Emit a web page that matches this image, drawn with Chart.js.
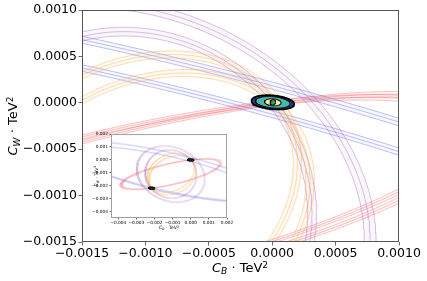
<!DOCTYPE html>
<html>
<head>
<meta charset="utf-8">
<script src="https://cdn.jsdelivr.net/npm/chart.js@4.4.1/dist/chart.umd.min.js"></script>
<style>
  html, body { margin: 0; padding: 0; background: #fff; }
  #wrap { position: relative; width: 427px; height: 281px; font-family: "DejaVu Sans", sans-serif; }
  #main { position: absolute; left: 0; top: 0; }
  #inset { position: absolute; left: 87px; top: 130px; }
  .ttl { position: absolute; white-space: nowrap; color: #000; line-height: 1; }
  .ttl i { font-style: italic; }
  .ttl sub { font-size: 0.7em; vertical-align: -0.25em; font-style: italic; }
  .ttl sup { font-size: 0.7em; vertical-align: 0.45em; }
  #xt { font-size: 13px; left: 240px; top: 261px; transform: translateX(-50%); }
  #yt { font-size: 13px; left: 14px; top: 126px; transform: translate(-50%, -50%) rotate(-90deg); }
  #ixt { font-size: 4.6px; left: 169px; top: 226px; transform: translateX(-50%); }
  #iyt { font-size: 4.6px; left: 97px; top: 176px; transform: translate(-50%, -50%) rotate(-90deg); }
</style>
</head>
<body>
<div id="wrap">
  <canvas id="main" width="427" height="281"></canvas>
  <canvas id="inset" width="150" height="97"></canvas>
  <div class="ttl" id="xt"><i>C</i><sub>B</sub> · TeV<sup>2</sup></div>
  <div class="ttl" id="yt"><i>C</i><sub>W</sub> · TeV<sup>2</sup></div>
  <div class="ttl" id="ixt"><i>C</i><sub>B</sub> · TeV<sup>2</sup></div>
  <div class="ttl" id="iyt"><i>C</i><sub>W</sub> · TeV<sup>2</sup></div>
</div>
<script>
// constraint bands (ellipses), values in units of 1e-3 TeV^-2
const bandColor = ["red", "red", "blue", "blue", "purple", "purple", "orange", "orange"];
const bandCx    = [-1.10, -1.10, -1.30, -1.30, -1.10, -1.10, -1.10, -1.00];
const bandCy    = [-1.10, -1.10, -0.90, -1.10, -1.10, -1.10, -1.00, -1.20];
const bandA     = [2.90, 2.86, 6.00, 5.50, 1.87, 2.25, 1.60, 1.60];
const bandB     = [0.77, 0.82, 1.45, 1.35, 1.41, 1.78, 1.20, 1.20];
const bandAngle = [19.0, 17.4, -18.0, -18.0, 95.0, 115.0, 62.0, 62.0];
const bandLevels = [0.975, 1.0, 1.025];

// combined fit contours around the SM point
const fitNames = ["3 sigma", "2 sigma", "1 sigma", "core"];
const fitA = [0.170, 0.138, 0.066, 0.022];
const fitB = [0.075, 0.060, 0.037, 0.030];
const fitCx = 0.005;
const fitCy = 0.005;
const fitAngle = -8;

// the two common solutions seen in the inset
const solX = [0.0, -2.16];
const solY = [0.0, -2.19];

const mainTicks = [-0.0015, -0.0010, -0.0005, 0.0000, 0.0005, 0.0010];
const insetTicks = [-0.004, -0.003, -0.002, -0.001, 0.000, 0.001, 0.002];

const lineColors = {
    red: "rgba(245, 95, 95, 0.38)",
    blue: "rgba(90, 90, 235, 0.38)",
    purple: "rgba(150, 70, 170, 0.34)",
    orange: "rgba(250, 170, 60, 0.40)",
};
const fillColors = {
    red: "rgba(245, 95, 95, 0.05)",
    blue: "rgba(90, 90, 235, 0.05)",
    purple: "rgba(150, 90, 200, 0.05)",
    orange: "rgba(250, 170, 60, 0.06)",
};
const fitFill = ["#2b3d8c", "#4db6ac", "#f2f0a0", "#3c9a5f"];

function ellipse(cx, cy, a, b, angDeg, s, reverse) {
    const pts = [];
    const th = angDeg * Math.PI / 180;
    const n = 360;
    for (let i = 0; i <= n; i++) {
        const t = (reverse ? n - i : i) / n * 2 * Math.PI;
        const u = s * a * Math.cos(t);
        const v = s * b * Math.sin(t);
        pts.push({
            x: (cx + u * Math.cos(th) - v * Math.sin(th)) * 1e-3,
            y: (cy + u * Math.sin(th) + v * Math.cos(th)) * 1e-3,
        });
    }
    return pts;
}

function bandDatasets(lw, alphaScale) {
    const sets = [];
    const fade = c => c.replace(/[\d.]+\)$/, m => (parseFloat(m) * alphaScale).toFixed(3) + ")");
    bandColor.forEach((col, i) => {
        const lo = bandLevels[0];
        const hi = bandLevels[bandLevels.length - 1];
        // light fill between the outer contour lines
        sets.push({
            data: ellipse(bandCx[i], bandCy[i], bandA[i], bandB[i], bandAngle[i], hi, false)
                .concat(ellipse(bandCx[i], bandCy[i], bandA[i], bandB[i], bandAngle[i], lo, true)),
            showLine: true, borderWidth: 0, borderColor: "rgba(0,0,0,0)",
            backgroundColor: fillColors[col], fill: "shape", pointRadius: 0,
        });
        bandLevels.forEach(s => {
            sets.push({
                data: ellipse(bandCx[i], bandCy[i], bandA[i], bandB[i], bandAngle[i], s, false),
                showLine: true, borderWidth: lw, borderColor: fade(lineColors[col]),
                fill: false, pointRadius: 0,
            });
        });
    });
    return sets;
}

function fitDatasets() {
    return fitA.map((a, i) => ({
        data: ellipse(fitCx, fitCy, a, fitB[i], fitAngle, 1, false),
        showLine: true, borderWidth: i === 0 ? 1.6 : 1, borderColor: "#000",
        backgroundColor: fitFill[i], fill: "shape", pointRadius: 0,
    }));
}

function solutionDatasets() {
    return solX.map((x, i) => ({
        data: ellipse(solX[i], solY[i], fitA[0] * 1.1, fitB[0] * 1.3, fitAngle, 1, false),
        showLine: true, borderWidth: 1, borderColor: "#000",
        backgroundColor: "#1b2a3a", fill: "shape", pointRadius: 0,
    }));
}

// draw in list order (chart.js puts low index on top otherwise)
function ordered(list) {
    list.forEach((d, i) => { d.order = list.length - i; });
    return list;
}

const framePlugin = {
    id: "frame",
    beforeDatasetsDraw(chart, args, opts) {
        const a = chart.chartArea;
        const ctx = chart.ctx;
        ctx.save();
        ctx.fillStyle = "#fff";
        ctx.fillRect(a.left, a.top, a.right - a.left, a.bottom - a.top);
        ctx.restore();
    },
    afterDatasetsDraw(chart, args, opts) {
        const a = chart.chartArea;
        const ctx = chart.ctx;
        ctx.save();
        ctx.strokeStyle = opts.color;
        ctx.lineWidth = opts.width;
        ctx.strokeRect(a.left + 0.5, a.top + 0.5, a.right - a.left - 1, a.bottom - a.top - 1);
        ctx.restore();
    },
};

function fmt(digits) {
    return v => {
        if (Math.abs(v) < 1e-12) return (0).toFixed(digits);
        return (v < 0 ? "\u2212" : "") + Math.abs(v).toFixed(digits);
    };
}

function axis(min, max, ticks, fontSize, digits, tickLen, size, isX) {
    return {
        type: "linear",
        min: min, max: max,
        afterBuildTicks: s => { s.ticks = ticks.map(v => ({ value: v })); },
        afterFit: s => { if (isX) s.height = size; else s.width = size; },
        grid: { display: true, drawOnChartArea: false, drawTicks: true, tickLength: tickLen, color: "#444", lineWidth: 0.8 },
        border: { display: false },
        ticks: {
            autoSkip: false, maxRotation: 0, minRotation: 0,
            padding: isX ? 1 : 1.5,
            color: "#000",
            font: { family: "DejaVu Sans", size: fontSize },
            callback: fmt(digits),
        },
    };
}

Chart.defaults.animation = false;

new Chart(document.getElementById("main"), {
    type: "scatter",
    data: { datasets: ordered(bandDatasets(1, 1).concat(fitDatasets())) },
    options: {
        responsive: false,
        devicePixelRatio: 1,
        layout: { padding: { left: 0, right: 28, top: 10, bottom: 0 } },
        plugins: { legend: { display: false }, tooltip: { enabled: false }, frame: { color: "#555", width: 1 } },
        scales: {
            x: axis(-0.0015, 0.0010, mainTicks, 12.5, 4, 3.5, 39, true),
            y: axis(-0.0015, 0.0010, mainTicks, 12.5, 4, 3.5, 82, false),
        },
    },
    plugins: [framePlugin],
});

new Chart(document.getElementById("inset"), {
    type: "scatter",
    data: { datasets: ordered(bandDatasets(0.5, 0.6).concat(solutionDatasets())) },
    options: {
        responsive: false,
        devicePixelRatio: 1,
        layout: { padding: { left: 0, right: 10, top: 4, bottom: 0 } },
        plugins: { legend: { display: false }, tooltip: { enabled: false }, frame: { color: "#a0a0a0", width: 1 } },
        scales: {
            x: axis(-0.0044, 0.0020, insetTicks, 4.3, 3, 1.5, 9, true),
            y: axis(-0.0045, 0.0020, insetTicks, 4.3, 3, 1.5, 24, false),
        },
    },
    plugins: [framePlugin],
});
</script>
</body>
</html>
